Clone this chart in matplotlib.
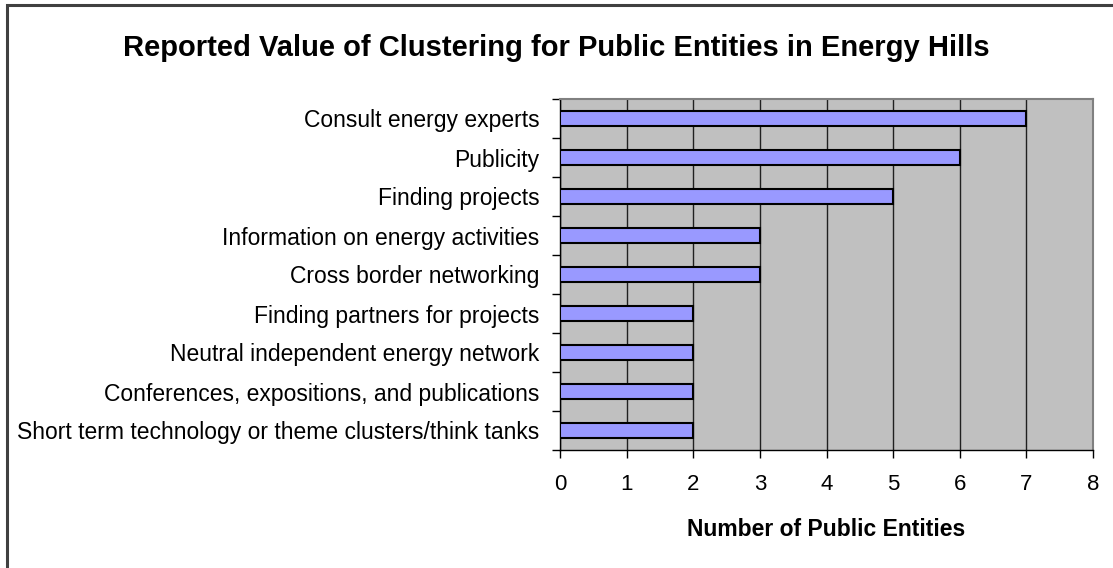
import matplotlib.pyplot as plt
from matplotlib.patches import Rectangle

# values per category, top to bottom
categories = [
    "Consult energy experts",
    "Publicity",
    "Finding projects",
    "Information on energy activities",
    "Cross border networking",
    "Finding partners for projects",
    "Neutral independent energy network",
    "Conferences, expositions, and publications",
    "Short term technology or theme clusters/think tanks",
]
counts = [7, 6, 5, 3, 3, 2, 2, 2, 2]
x_ticks = [0, 1, 2, 3, 4, 5, 6, 7, 8]

plt.rcParams['font.family'] = ['Liberation Sans', 'DejaVu Sans']

fig = plt.figure(figsize=(11.13, 5.68), dpi=100)
ax = fig.add_axes([560 / 1113, 1 - 450 / 568, 533 / 1113, 351 / 568])

n = len(categories)
ypos = [n - 1 - i for i in range(n)]
ax.set_facecolor('#C0C0C0')
ax.barh(ypos, counts, height=0.38, color='#9999FF', edgecolor='black',
        linewidth=1.5, zorder=3)

ax.set_xlim(0, 8)
ax.set_ylim(-0.5, n - 0.5)
ax.set_xticks(x_ticks)
ax.set_xticklabels([str(t) for t in x_ticks], fontsize=16)
ax.tick_params(axis='x', length=6, width=1, pad=11, direction='out')

# category labels sit between tick marks drawn at the boundaries
ax.set_yticks(ypos)
ax.set_yticklabels(categories, fontsize=16.5)
ax.tick_params(axis='y', length=0, pad=15)
ax.set_yticks([i - 0.5 for i in range(n + 1)], minor=True)
ax.tick_params(axis='y', which='minor', length=6, width=1, direction='out')

ax.grid(axis='x', color='#202020', linewidth=1, zorder=1)
ax.set_axisbelow(True)
for side in ['top', 'right']:
    ax.spines[side].set_color('#808080')
    ax.spines[side].set_linewidth(1.5)
for side in ['left', 'bottom']:
    ax.spines[side].set_color('black')
    ax.spines[side].set_linewidth(1)

ax.set_xlabel('Number of Public Entities', fontsize=16.5, fontweight='bold',
              labelpad=17)

fig.text(0.5, 1 - 48 / 568, 'Reported Value of Clustering for Public Entities in Energy Hills',
         ha='center', va='center', fontsize=21, fontweight='bold')

# outer chart frame
fig.patches.append(Rectangle((6.5 / 1113, -0.1), 1.2, 1.1 - 5.5 / 568,
                             transform=fig.transFigure, fill=False,
                             edgecolor='#404040', linewidth=2.2))

fig.savefig('out.png', dpi=100)
